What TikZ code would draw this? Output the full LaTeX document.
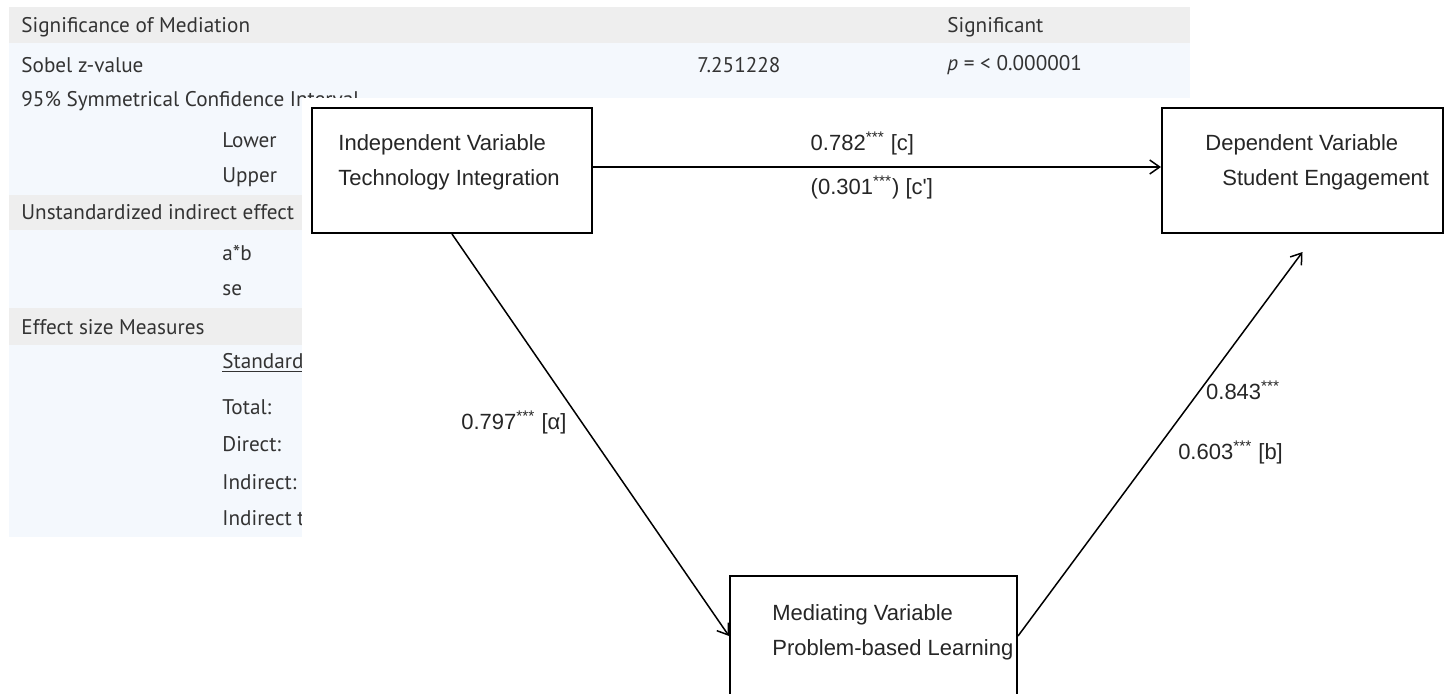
\documentclass[tikz,border=0pt]{standalone}
\usepackage{fontspec}
\setmainfont{Liberation Sans}
\newfontfamily\tabfont{PT Sans}
\usetikzlibrary{arrows.meta}
\definecolor{bandgray}{HTML}{EEEEEE}
\definecolor{bandblue}{HTML}{F4F8FD}
\definecolor{tabtext}{HTML}{333333}

\begin{document}
\begin{tikzpicture}[x=0.5pt, y=-0.5pt,
  tab/.style={font=\tabfont\fontsize{10.6}{12}\selectfont, text=tabtext, anchor=west, inner sep=0pt},
  varbox/.style={draw, line width=1pt, inner sep=0pt, minimum height=62.5pt},
  vartext/.style={font=\fontsize{11}{17.5}\selectfont, align=left, anchor=west, inner sep=0pt, text=black!85},
  coef/.style={font=\fontsize{11}{13}\selectfont, text=black!85, inner sep=0pt},
  arr/.style={line width=0.75pt, -{Straight Barb[length=5pt, width=7pt]}}]
\clip (0,0) rectangle (1446,693);
\fill[white] (0,0) rectangle (1446,693);
% table behind the diagram
\fill[bandblue] (9,43) rectangle (1190,537);
\fill[bandgray] (9,7) rectangle (1190,43);
\fill[bandgray] (9,195) rectangle (1190,230);
\fill[bandgray] (9,308) rectangle (1190,345);
\foreach \y/\t [count=\i] in {27/Significance of Mediation, 65/Sobel z-value, 101/95\% Symmetrical Confidence Interval, 212/Unstandardized indirect effect, 327/Effect size Measures}
  \node[tab] (head\i) at (21,\y) {\t};
\foreach \y/\t [count=\i] in {140/Lower, 177/Upper, 253/a*b, 290/se, 363/\underline{Standardized}, 407/Total:, 444/Direct:, 482/Indirect:, 518/Indirect to total ratio:}
  \node[tab] (sub\i) at (222,\y) {\t};
\node[tab] (zval) at (697,65) {7.251228};
\node[tab] (sig) at (947,27) {Significant};
\node[tab] (pval) at (947,65) {\textit{p} = < 0.000001};
% white sheet of the model
\fill[white] (302,98) rectangle (1446,693);
\node[varbox, minimum width=140pt] (iv) at (452,170.5) {};
\node[varbox, minimum width=140.5pt] (dv) at (1302.5,170.5) {};
\node[varbox, minimum width=143.5pt, minimum height=60pt] (med) at (873.5,636) {};
\node[vartext] (ivtext) at (338,162) {Independent Variable\\Technology Integration};
\node[vartext] (dvtext) at (1205,162) {Dependent Variable\\\hspace*{8.5pt}Student Engagement};
\node[vartext] (medtext) at (772,632) {Mediating Variable\\Problem-based Learning};
% paths
\draw[arr] ([yshift=1.75pt]iv.east) -- ([yshift=1.75pt]dv.west)
  node[coef, pos=0.382, anchor=west, yshift=12pt] (ctot) {0.782\textsuperscript{***} [c]}
  node[coef, pos=0.382, anchor=west, yshift=-10pt] (cdir) {(0.301\textsuperscript{***}) [c\textquotesingle]};
\draw[arr] (iv.south) -- (med.west)
  node[coef, pos=0.47, anchor=east, xshift=-7.5pt] (apath) {0.797\textsuperscript{***} [α]};
\coordinate (dvin) at ([yshift=-9pt]dv.south);
\draw[arr] (med.east) -- (dvin)
  node[coef, pos=0.639, anchor=west, xshift=2.8pt] (bstd) {0.843\textsuperscript{***}}
  node[coef, pos=0.478, anchor=west, xshift=11.75pt] (bpath) {0.603\textsuperscript{***} [b]};
\end{tikzpicture}
\end{document}
